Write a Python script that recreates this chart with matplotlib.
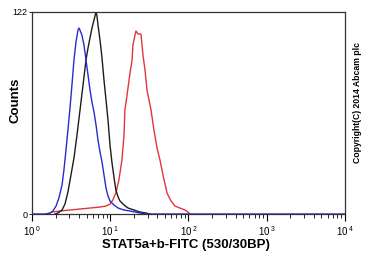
import matplotlib
matplotlib.use("Agg")
import matplotlib.pyplot as plt
from matplotlib.ticker import FixedLocator, LogLocator, NullFormatter

# fluorescence intensity (530/30BP) and event counts
BLUE_X = [1.0, 1.47, 1.70, 1.85, 2.03, 2.21, 2.42, 2.56, 2.72, 2.88, 3.06, 3.24, 3.44,
          3.65, 3.87, 3.99, 4.11, 4.35, 4.62, 4.90, 5.20, 5.51, 5.84, 6.20, 6.58,
          6.97, 7.40, 7.85, 8.32, 8.83, 9.36, 9.93, 11.2, 12.6, 15.0, 17.9, 24.0,
          28.6, 10000.0]
BLUE_Y = [0, 0, 0.6, 1.8, 4.8, 9.7, 17.5, 26.6, 38.7, 50.7, 64.0, 77.9, 93.0,
          103.9, 111.0, 112.3, 111.0, 108.0, 102.0, 93.0, 84.0, 75.0, 67.6, 61.6, 53.8,
          44.7, 37.4, 31.4, 23.6, 15.7, 10.9, 7.8, 5.4, 3.6, 2.4, 1.8, 0.6,
          0, 0]

BLACK_X = [1.97, 2.15, 2.42, 2.64, 2.88, 3.15, 3.44, 3.76, 4.11, 4.49, 4.90, 5.20,
           5.51, 5.84, 6.20, 6.39, 6.58, 6.77, 6.97, 7.40, 7.85, 8.32, 8.83, 9.36,
           9.93, 10.5, 11.2, 11.8, 12.6, 13.3, 15.0, 16.9, 20.1, 24.0, 28.6, 32.2]
BLACK_Y = [0, 0.6, 2.4, 6.0, 13.3, 23.6, 33.8, 47.7, 62.8, 77.9, 93.0, 100.3,
           106.3, 112.3, 117.2, 119.6, 122.0, 119.6, 114.2, 105.1, 94.2, 80.9, 68.9, 56.8,
           41.7, 31.4, 21.7, 14.5, 10.3, 7.9, 5.4, 3.6, 2.4, 1.2, 0.6, 0]

RED_X = [1.60, 1.80, 2.28, 3.06, 4.11, 5.51, 7.40, 8.83, 9.93, 10.8, 11.8, 12.9,
         14.1, 15.0, 15.4, 16.4, 17.4, 17.9, 19.0, 19.5, 20.7, 21.3, 22.6, 24.7,
         26.2, 27.8, 29.5, 31.3, 33.2, 36.2, 39.6, 43.2, 47.2, 53.1, 59.7, 67.2,
         77.8, 90.2, 98.6, 104.0]
RED_Y = [0, 1.2, 1.8, 2.4, 3.0, 3.6, 4.2, 4.8, 6.0, 8.5, 12.7, 20.5,
         32.6, 47.7, 62.8, 71.9, 80.9, 85.2, 93.0, 102.0, 108.0, 110.5, 108.7, 108.7,
         96.0, 87.0, 74.9, 68.9, 62.8, 50.7, 39.9, 32.6, 23.6, 12.7, 7.9, 4.8,
         3.6, 2.4, 1.2, 0]

X_TICKS = [1, 10, 100, 1000, 10000]
X_TICK_LABELS = [r"$10^{\,0}$", r"$10^{\,1}$", r"$10^{\,2}$", r"$10^{\,3}$", r"$10^{\,4}$"]
Y_TICKS = [0, 122]

plt.rcParams["font.family"] = ["Liberation Sans", "DejaVu Sans"]
plt.rcParams["mathtext.fontset"] = "custom"
plt.rcParams["mathtext.rm"] = "Liberation Sans"

fig = plt.figure(figsize=(3.66, 2.62), dpi=100)
ax = fig.add_axes([0.0874, 0.1832, 0.8552, 0.771])

ax.plot(RED_X, RED_Y, color="#e0353a", linewidth=1.0)
ax.plot(BLACK_X, BLACK_Y, color="#1c1c1c", linewidth=1.0)
ax.plot(BLUE_X, BLUE_Y, color="#2a2ad0", linewidth=1.0)

ax.set_xscale("log")
ax.set_xlim(1, 10000)
ax.set_ylim(0, 122)
ax.xaxis.set_major_locator(FixedLocator(X_TICKS))
ax.set_xticklabels(X_TICK_LABELS)
ax.xaxis.set_minor_locator(LogLocator(base=10, subs=range(2, 10)))
ax.xaxis.set_minor_formatter(NullFormatter())
ax.set_yticks(Y_TICKS)
ax.set_yticklabels([str(t) for t in Y_TICKS])

ax.tick_params(axis="x", which="major", length=5, width=0.8, labelsize=7, pad=2, direction="out")
ax.tick_params(axis="x", which="minor", length=3, width=0.6, direction="out")
ax.tick_params(axis="y", length=2, width=0.6, labelsize=6.5, pad=1)
for side in ["left", "right", "top", "bottom"]:
    ax.spines[side].set_linewidth(0.9)
    ax.spines[side].set_color("#333333")

ax.set_xlabel("STAT5a+b-FITC (530/30BP)", fontsize=9.5, fontweight="bold", va="center")
ax.xaxis.set_label_coords(0.492, -0.153)
ax.set_ylabel("Counts", fontsize=9.5, fontweight="bold", va="center")
ax.yaxis.set_label_coords(-0.054, 0.564)

fig.text(0.978, 0.61, "Copyright(C) 2014 Abcam plc", rotation=90, fontsize=6.2,
         fontweight="bold", ha="center", va="center")

fig.savefig("out.png", dpi=100)
